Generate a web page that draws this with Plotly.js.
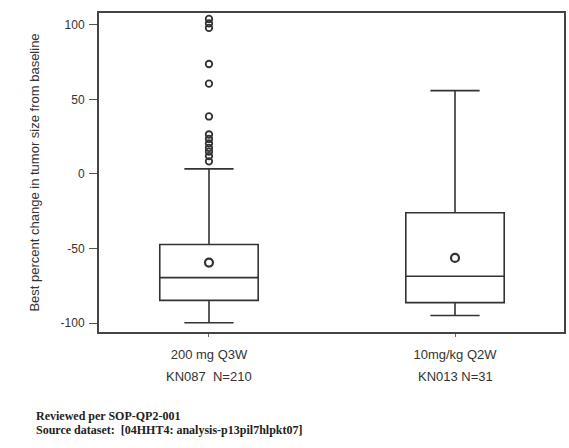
<!DOCTYPE html>
<html>
<head>
<meta charset="utf-8">
<script src="https://cdn.plot.ly/plotly-3.0.1.min.js"></script>
<style>html,body{margin:0;padding:0;background:#fff;}#chart{width:569px;height:448px;}</style>
</head>
<body>
<div id="chart"></div>
<script>
// Categories (group labels)
const categories = ["200 mg Q3W", "10mg/kg Q2W"];
const studyLabels = ["KN087  N=210", "KN013 N=31"];
// Box statistics (best percent change in tumor size from baseline)
const q1 = [-84.8, -86.3];
const median = [-69.5, -68.6];
const q3 = [-47.3, -26.0];
const lowerFence = [-99.8, -94.9];
const upperFence = [3.4, 55.9];
const means = [-59.4, -56.3];
// Outliers (only first group)
const outlierGroup = ["200 mg Q3W","200 mg Q3W","200 mg Q3W","200 mg Q3W","200 mg Q3W","200 mg Q3W","200 mg Q3W","200 mg Q3W","200 mg Q3W","200 mg Q3W","200 mg Q3W","200 mg Q3W","200 mg Q3W"];
const outlierValues = [104, 101, 98, 73.8, 60.6, 38.6, 26.5, 23.5, 20.5, 17.5, 15, 12, 8.5];
const yTicks = [-100, -50, 0, 50, 100];

const ink = '#333';
const sans = 'Liberation Sans, Arial, sans-serif';
const serif = 'Liberation Serif, Times New Roman, serif';
const traces = [
  {
    type: 'box',
    x: categories,
    q1: q1, median: median, q3: q3,
    lowerfence: lowerFence, upperfence: upperFence,
    width: 0.4,
    whiskerwidth: 0.5,
    fillcolor: 'rgba(255,255,255,0)',
    line: {color: ink, width: 1.6},
    boxpoints: false,
    hoverinfo: 'skip',
    showlegend: false
  },
  {
    type: 'scatter', mode: 'markers',
    x: categories, y: means,
    marker: {symbol: 'circle-open', size: 8, color: ink, line: {width: 2.2, color: ink}},
    showlegend: false
  },
  {
    type: 'scatter', mode: 'markers',
    x: outlierGroup, y: outlierValues,
    marker: {symbol: 'circle-open', size: 6.5, color: ink, line: {width: 1.8, color: ink}},
    showlegend: false
  }
];

const annotations = categories.map((c, i) => ({
  x: c, xref: 'x', y: -0.141, yref: 'paper', yanchor: 'middle',
  text: studyLabels[i], showarrow: false,
  font: {family: sans, size: 13, color: ink}
}));
annotations.push({
  x: -0.14, xref: 'paper', xanchor: 'left', y: -0.262, yref: 'paper', yanchor: 'middle',
  text: '<b>Reviewed per SOP-QP2-001</b>', showarrow: false, align: 'left',
  font: {family: serif, size: 12, color: '#222'}
});
annotations.push({
  x: -0.14, xref: 'paper', xanchor: 'left', y: -0.308, yref: 'paper', yanchor: 'middle',
  text: '<b>Source dataset:  [04HHT4: analysis-p13pil7hlpkt07]</b>', showarrow: false, align: 'left',
  font: {family: serif, size: 12, color: '#222'}
});

const layout = {
  width: 569, height: 448,
  margin: {l: 99, r: 5, t: 13, b: 116},
  paper_bgcolor: '#fff', plot_bgcolor: '#fff',
  showlegend: false,
  xaxis: {
    type: 'category',
    range: [-0.447, 1.443],
    showgrid: false, zeroline: false,
    showline: true, mirror: true, linecolor: '#444', linewidth: 2,
    ticks: 'outside', ticklen: 3, tickcolor: '#666', tickwidth: 1,
    tickfont: {family: sans, size: 13, color: ink},
    ticklabelstandoff: 6
  },
  yaxis: {
    range: [-106, 108],
    tickvals: yTicks,
    ticktext: yTicks.map(String),
    showgrid: false, zeroline: false,
    showline: true, mirror: true, linecolor: '#444', linewidth: 2,
    ticks: 'outside', ticklen: 8, tickcolor: '#555', tickwidth: 1,
    ticklabelstandoff: 2,
    tickfont: {family: sans, size: 12, color: ink},
    title: {text: 'Best percent change in tumor size from baseline', standoff: 18,
      font: {family: sans, size: 13, color: ink}}
  },
  annotations: annotations
};

Plotly.newPlot('chart', traces, layout, {displayModeBar: false, staticPlot: true});
</script>
</body>
</html>
